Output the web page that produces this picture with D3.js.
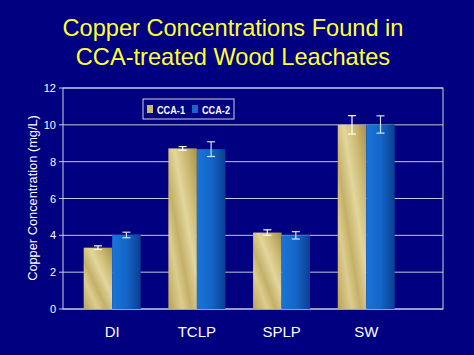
<!DOCTYPE html>
<html lang="en">
<head>
  <meta charset="UTF-8">
  <title>Copper Concentrations</title>
  <style>
    body { margin: 0; background: #000080; }
    text { font-family: "Liberation Sans", Arial, sans-serif; }
  </style>
</head>
<body>
  <svg id="svg" width="474" height="355"></svg>

  <script src="https://d3js.org/d3.v7.min.js"></script>
  <script>
    const categories = ['DI', 'TCLP', 'SPLP', 'SW']
    const series = ['CCA-1', 'CCA-2']
    const cca1 = [3.33, 8.72, 4.15, 10.0]
    const cca1Err = [0.1, 0.1, 0.15, 0.5]
    const cca2 = [4.02, 8.68, 4.0, 10.02]
    const cca2Err = [0.15, 0.4, 0.2, 0.47]
    const yTicks = [0, 2, 4, 6, 8, 10, 12]

    const svg = d3.select('#svg')
    svg.append('rect').attr('width', 474).attr('height', 355).attr('fill', '#000080')

    // gradients for bar fills
    const defs = svg.append('defs')
    const gold = defs.append('linearGradient').attr('id', 'gold')
      .attr('x1', '0').attr('y1', '1').attr('x2', '1').attr('y2', '0')
    ;[['0', '#b8a256'], ['0.25', '#dccd8e'], ['0.4', '#c4b068'], ['0.6', '#e2d69c'], ['0.8', '#cab66e'], ['1', '#a8924a']]
      .forEach(s => gold.append('stop').attr('offset', s[0]).attr('stop-color', s[1]))
    const blue = defs.append('linearGradient').attr('id', 'blue')
      .attr('x1', '0').attr('y1', '0').attr('x2', '1').attr('y2', '0')
    ;[['0', '#1a74d8'], ['0.5', '#1466c8'], ['1', '#0a3f94']]
      .forEach(s => blue.append('stop').attr('offset', s[0]).attr('stop-color', s[1]))

    // title
    const title = svg.append('text')
      .attr('fill', '#ffff33')
      .attr('text-anchor', 'middle').attr('font-size', 23.6)
    title.append('tspan').attr('x', 233).attr('y', 36).text('Copper Concentrations Found in')
    title.append('tspan').attr('x', 233).attr('y', 65).text('CCA-treated Wood Leachates')

    const plotL = 63, plotR = 443, plotT = 88, plotB = 309

    const y = d3.scaleLinear().domain([0, 12]).range([plotB, plotT])
    const x0 = d3.scaleBand().domain(categories).range([plotL, plotR])
      .paddingInner(0.327).paddingOuter(0.407).align(0.3)
    const x1 = d3.scaleBand().domain(series).range([0, x0.bandwidth()])

    // gridlines
    svg.append('g').selectAll('line').data(yTicks).enter().append('line')
      .attr('x1', plotL - 4).attr('x2', plotR)
      .attr('y1', d => y(d)).attr('y2', d => y(d))
      .attr('stroke', '#c8c8dc').attr('stroke-width', 1)

    // plot frame
    svg.append('rect').attr('x', plotL).attr('y', plotT)
      .attr('width', plotR - plotL).attr('height', plotB - plotT)
      .attr('fill', 'none').attr('stroke', '#d0d0e0').attr('stroke-width', 1)

    const rows = categories.map((c, i) => ({
      cat: c,
      vals: [
        { s: 'CCA-1', v: cca1[i], e: cca1Err[i] },
        { s: 'CCA-2', v: cca2[i], e: cca2Err[i] }
      ]
    }))

    const groups = svg.append('g').selectAll('g').data(rows).enter().append('g')
      .attr('transform', d => `translate(${x0(d.cat)},0)`)

    groups.selectAll('rect').data(d => d.vals).enter().append('rect')
      .attr('x', d => x1(d.s))
      .attr('y', d => y(d.v))
      .attr('width', x1.bandwidth())
      .attr('height', d => plotB - y(d.v))
      .attr('fill', d => d.s === 'CCA-1' ? 'url(#gold)' : 'url(#blue)')

    // error bars
    const err = groups.selectAll('g.err').data(d => d.vals).enter().append('g')
      .attr('class', 'err')
      .attr('stroke', d => d.s === 'CCA-1' ? '#ffffee' : '#d0e0ff')
      .attr('stroke-width', 1.2)
    const cx = d => x1(d.s) + x1.bandwidth() / 2
    err.append('line')
      .attr('x1', cx).attr('x2', cx)
      .attr('y1', d => y(d.v + d.e)).attr('y2', d => y(d.v - d.e))
    err.append('line')
      .attr('x1', d => cx(d) - 4).attr('x2', d => cx(d) + 4)
      .attr('y1', d => y(d.v + d.e)).attr('y2', d => y(d.v + d.e))
    err.append('line')
      .attr('x1', d => cx(d) - 4).attr('x2', d => cx(d) + 4)
      .attr('y1', d => y(d.v - d.e)).attr('y2', d => y(d.v - d.e))

    // y tick labels
    svg.append('g').selectAll('text').data(yTicks).enter().append('text')
      .attr('x', plotL - 7).attr('y', d => y(d) + 4)
      .attr('text-anchor', 'end').attr('fill', '#ffffff').attr('font-size', 11)
      .text(d => d)

    // category labels
    svg.append('g').selectAll('text').data(categories).enter().append('text')
      .attr('x', d => x0(d) + x0.bandwidth() / 2).attr('y', 337)
      .attr('text-anchor', 'middle').attr('fill', '#ffffff').attr('font-size', 15)
      .text(d => d)

    // y axis title
    svg.append('text')
      .attr('transform', 'translate(37,198) rotate(-90)')
      .attr('text-anchor', 'middle').attr('fill', '#ffffff').attr('font-size', 12.8)
      .text('Copper Concentration (mg/L)')

    // legend
    const lg = svg.append('g').attr('transform', 'translate(143,99)')
    lg.append('rect').attr('width', 91).attr('height', 20)
      .attr('fill', '#000080').attr('stroke', '#d0d0e0').attr('stroke-width', 1)
    const items = lg.selectAll('g').data(series).enter().append('g')
      .attr('transform', (d, i) => `translate(${4 + i * 45},0)`)
    items.append('rect').attr('x', 0).attr('y', 6).attr('width', 6).attr('height', 8)
      .attr('fill', d => d === 'CCA-1' ? '#cdb870' : '#1a66c8')
    items.append('text').attr('x', 10).attr('y', 14.5)
      .attr('fill', '#ffffff').attr('font-size', 11.5).attr('font-weight', 'bold')
      .attr('textLength', 28).attr('lengthAdjust', 'spacingAndGlyphs')
      .text(d => d)
  </script>
</body>
</html>
